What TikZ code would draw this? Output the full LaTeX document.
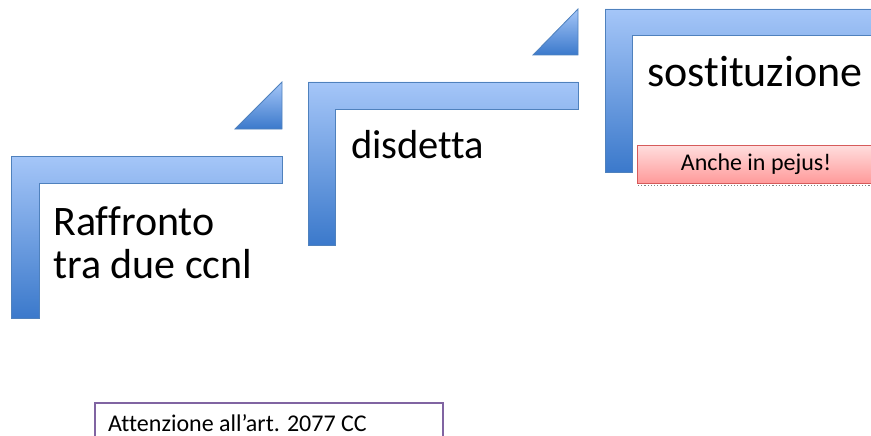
\documentclass[tikz,border=0pt]{standalone}
\usepackage{fontspec}
\setmainfont{Carlito}[Ligatures={NoCommon}]
\definecolor{stepTop}{HTML}{A5C6F8}
\definecolor{stepBot}{HTML}{3B79CB}
\definecolor{stepLine}{HTML}{4F81BD}
\definecolor{pinkTop}{HTML}{FFDEDE}
\definecolor{pinkBot}{HTML}{FF9A9A}
\definecolor{pinkLine}{HTML}{D65B5B}
\definecolor{purpleLine}{HTML}{8064A2}
\tikzset{
  stepshade/.style={top color=stepTop, bottom color=stepBot},
  stepedge/.style={draw=stepLine, line width=0.8pt, line join=miter},
  bigtext/.style={inner sep=0pt, anchor=base west, font=\fontsize{40.5}{43}\selectfont, align=left},
  notebox/.style={draw=pinkLine, line width=0.8pt, top color=pinkTop, bottom color=pinkBot, inner sep=0pt, font=\fontsize{24}{28}\selectfont},
  attbox/.style={draw=purpleLine, line width=1.6pt, inner sep=0pt}
}
\begin{document}
\begin{tikzpicture}[x=1pt,y=-1pt]
\useasboundingbox (0,0) rectangle (871,436);
% step 1
\shade[stepshade] (11,156) -- (282,156) -- (282,183) -- (39,183) -- (39,318) -- (11,318) -- cycle;
\draw[stepedge] (11,156) -- (282,156) -- (282,183) -- (39,183) -- (39,318) -- (11,318) -- cycle;
\shade[stepshade] (235,129) -- (282,82) -- (282,129) -- cycle;
\draw[stepedge] (235,129) -- (282,82) -- (282,129) -- cycle;
% step 2
\shade[stepshade] (308,82) -- (578,82) -- (578,109) -- (335,109) -- (335,245) -- (308,245) -- cycle;
\draw[stepedge] (308,82) -- (578,82) -- (578,109) -- (335,109) -- (335,245) -- (308,245) -- cycle;
\shade[stepshade] (533,55) -- (578,9) -- (578,55) -- cycle;
\draw[stepedge] (533,55) -- (578,9) -- (578,55) -- cycle;
% step 3
\shade[stepshade] (605,9) -- (880,9) -- (880,35) -- (632,35) -- (632,172) -- (605,172) -- cycle;
\draw[stepedge] (605,9) -- (880,9) -- (880,35) -- (632,35) -- (632,172) -- (605,172) -- cycle;
% texts
\node[bigtext, font=\fontsize{42}{43}\selectfont] (t1) at (53,278) {Raffronto\\tra due ccnl};
\node[bigtext] (t2) at (351,158) {disdetta};
\node[bigtext, font=\fontsize{44}{48}\selectfont] (t3) at (647,87) {sostituzione};
% pink note
\draw[gray, line width=1.2pt, dotted] (638,185.5) -- (880,185.5);
\node[notebox, minimum width=238pt, minimum height=38pt] (pj) at (756,164) {Anche in pejus!};
% purple box
\node[attbox, minimum width=348pt, minimum height=50pt, anchor=north west] (att) at (94,402) {};
\node[inner sep=0pt, anchor=base west, font=\fontsize{24}{28}\selectfont] (attt) at (108,431) {Attenzione all’art. 2077 CC};
\end{tikzpicture}
\end{document}
